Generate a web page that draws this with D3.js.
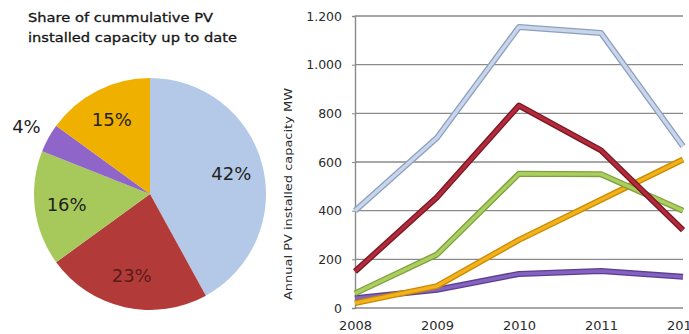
<!DOCTYPE html>
<html>
<head>
<meta charset="utf-8">
<script src="https://cdn.jsdelivr.net/npm/d3@7"></script>
<style>
  html, body { margin: 0; padding: 0; background: #fff; overflow: hidden; }
  svg { display: block; }
  text { font-family: "DejaVu Sans", Verdana, sans-serif; fill: #2b2b2b; }
</style>
</head>
<body>
<script>
// Share of cumulative installed PV capacity (pie, clockwise from 12 o'clock)
const pieShares = [42, 23, 16, 4, 15];
const pieColors = ["#b4c9e7", "#b23b39", "#a7c95b", "#8f65c9", "#efb000"];

// Annual installed PV capacity, MW
const years = [2008, 2009, 2010, 2011, 2012];
const seriesBlue   = [400, 700, 1155, 1130, 665];
const seriesRed    = [150, 455, 832, 648, 320];
const seriesGreen  = [60, 220, 552, 550, 400];
const seriesOrange = [20, 90, 280, 445, 610];
const seriesPurple = [40, 75, 140, 152, 128];
const yTicks = [0, 200, 400, 600, 800, 1000, 1200];

const titleLines = ["Share of cummulative PV", "installed capacity up to date"];
const yTitle = "Annual PV installed capacity MW";

const W = 689, H = 334;
const svg = d3.select("body").append("svg").attr("width", W).attr("height", H);

// ---------- pie ----------
const pieG = svg.append("g").attr("transform", "translate(150,194)");
const R = 116;
const pie = d3.pie().sort(null).value(d => d);
const arcs = pie(pieShares);
const arc = d3.arc().innerRadius(0).outerRadius(R);
pieG.selectAll("path.slice").data(arcs).join("path")
  .attr("class", "slice")
  .attr("d", arc)
  .attr("fill", (d, i) => pieColors[i]);

const inLabel = d3.arc().innerRadius(84).outerRadius(84);
const outLabel = d3.arc().innerRadius(141).outerRadius(141);
pieG.selectAll("text.pct").data(arcs).join("text")
  .attr("class", "pct")
  .attr("transform", d => {
    const small = (d.endAngle - d.startAngle) < 0.4;
    const c = (small ? outLabel : inLabel).centroid(d);
    return `translate(${c[0]},${c[1]})`;
  })
  .attr("text-anchor", "middle")
  .attr("dominant-baseline", "central")
  .style("font-size", "18px")
  .style("fill", (d, i) => i === 1 ? "#5a1a1a" : "#222")
  .text(d => d.data + "%");

svg.selectAll("text.title").data(titleLines).join("text")
  .attr("class", "title")
  .attr("x", 28)
  .attr("y", (d, i) => 22 + i * 20)
  .style("font-size", "13px")
  .style("fill", "#151515")
  .style("stroke", "#151515")
  .style("stroke-width", 0.3)
  .attr("textLength", (d, i) => i === 0 ? 185 : 209)
  .attr("lengthAdjust", "spacingAndGlyphs")
  .text(d => d);

// ---------- line chart ----------
const x = d3.scaleLinear().domain([2008, 2012]).range([355, 683]);
const y = d3.scaleLinear().domain([0, 1200]).range([308, 16]);
const fmt = d3.formatLocale({ decimal: ",", thousands: ".", grouping: [3], currency: ["", ""] }).format(",d");

// gridlines
svg.append("g").selectAll("line").data(yTicks).join("line")
  .attr("x1", x(2008)).attr("x2", x(2012))
  .attr("y1", d => y(d)).attr("y2", d => y(d))
  .attr("stroke", "#8a8a8a").attr("stroke-width", 1.4);

// y axis
const yAxis = svg.append("g").attr("transform", `translate(${x(2008)},0)`)
  .call(d3.axisLeft(y).tickValues(yTicks).tickSize(3).tickPadding(10).tickFormat(fmt));
yAxis.select(".domain").attr("stroke", "#8a8a8a").attr("stroke-width", 1.4);
yAxis.selectAll(".tick line").attr("stroke", "#8a8a8a");
yAxis.selectAll("text").style("font-size", "12.5px").style("fill", "#2b2b2b")
  .attr("font-family", null);

// x axis labels
const xAxis = svg.append("g").attr("transform", `translate(0,${y(0)})`)
  .call(d3.axisBottom(x).tickValues(years).tickSize(0).tickPadding(13).tickFormat(d3.format("d")));
xAxis.select(".domain").remove();
xAxis.selectAll("text").style("font-size", "13px").style("fill", "#2b2b2b")
  .attr("font-family", null);

// y axis title
svg.append("text")
  .attr("transform", "translate(292,194) rotate(-90)")
  .attr("text-anchor", "middle")
  .style("font-size", "11px")
  .attr("textLength", 212)
  .attr("lengthAdjust", "spacingAndGlyphs")
  .text(yTitle);

// series lines, drawn with a darker edge under a lighter core
const series = [
  { values: seriesPurple, core: "#8462c2", edge: "#5b3f8e" },
  { values: seriesOrange, core: "#f2b21c", edge: "#c98a00" },
  { values: seriesGreen,  core: "#abcf5f", edge: "#7f9e3e" },
  { values: seriesRed,    core: "#b32a3c", edge: "#761822" },
  { values: seriesBlue,   core: "#c9d6ea", edge: "#8d9fc0" }
];
const line = d3.line().x((d, i) => x(years[i])).y(d => y(d));
const lines = svg.append("g");
series.forEach(s => {
  lines.append("path").attr("d", line(s.values))
    .attr("fill", "none").attr("stroke", s.edge).attr("stroke-width", 6)
    .attr("stroke-linejoin", "round");
  lines.append("path").attr("d", line(s.values))
    .attr("fill", "none").attr("stroke", s.core).attr("stroke-width", 3.4)
    .attr("stroke-linejoin", "round");
});
</script>
</body>
</html>
